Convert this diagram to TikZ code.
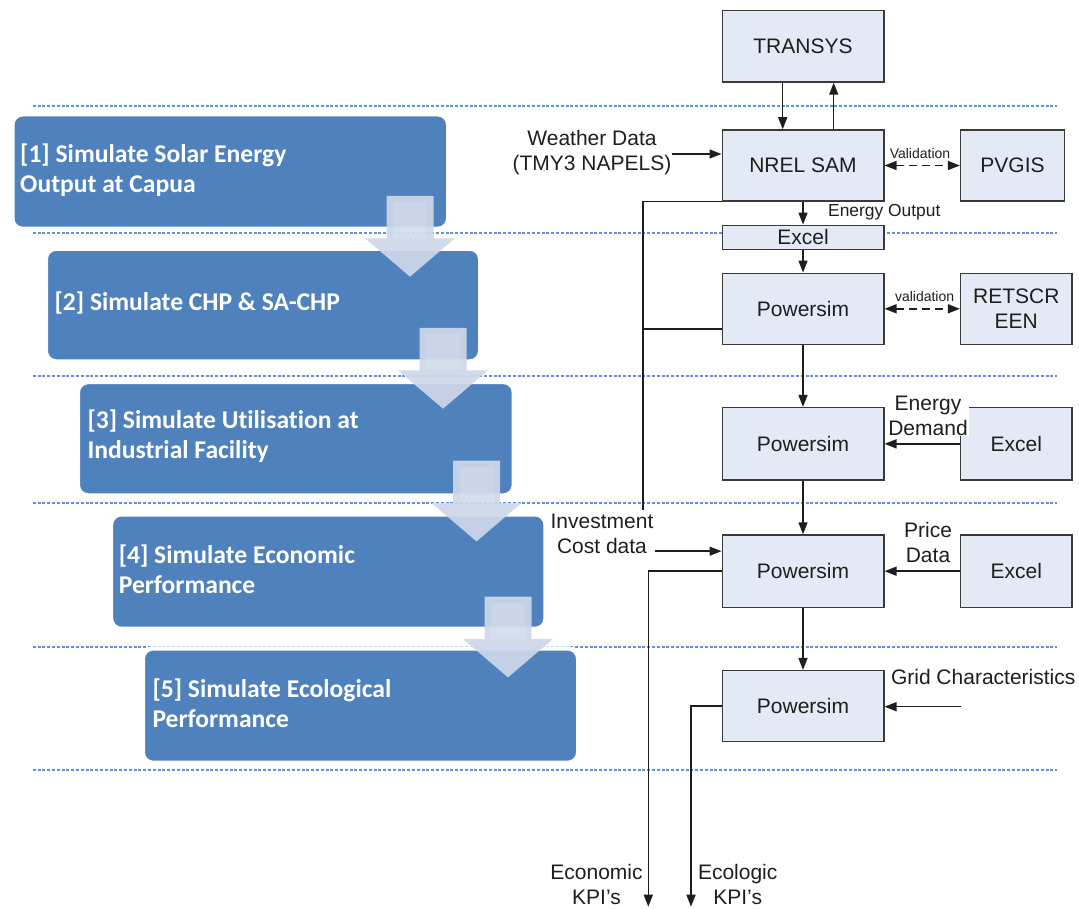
\documentclass[tikz,border=0pt]{standalone}
\usepackage{fontspec}
\setmainfont{Liberation Sans}
\newfontfamily\stepfont{Carlito}[Ligatures=NoCommon]
\usetikzlibrary{arrows.meta}
\definecolor{stepblue}{HTML}{4F81BD}
\definecolor{flowarrow}{HTML}{CDD7E9}
\definecolor{toolfill}{HTML}{E4EAF5}
\definecolor{toolline}{HTML}{3A3A3A}
\definecolor{guide}{HTML}{5E94D8}
\definecolor{ink}{HTML}{1E1E1E}

% big translucent step arrow: centre x, top y
\newcommand\steparrow[2]{%
  \fill[stagearrow] (#1-23.5,#2) -- (#1+23.5,#2) -- (#1+23.5,#2+42.3)
    -- (#1+45,#2+42.3) -- (#1,#2+80.7) -- (#1-45,#2+42.3)
    -- (#1-23.5,#2+42.3) -- cycle;
  \fill[white, opacity=0.12] (#1-17,#2+6) rectangle (#1+17,#2+42.3);}

\begin{document}
\begin{tikzpicture}[x=1pt,y=-1pt,
  stage/.style={preaction={draw=white, line width=7pt}, fill=stepblue,
    draw=white, line width=1.5pt, rounded corners=9pt, anchor=north west,
    inner sep=0pt},
  stagetext/.style={anchor=west, align=left, inner sep=0pt, text=white,
    font=\stepfont\bfseries\fontsize{25.6}{30}\selectfont},
  tool/.style={draw=toolline, fill=toolfill, line width=1.5pt,
    minimum width=161.5pt, minimum height=71pt, inner sep=0pt,
    font=\fontsize{21}{25}\selectfont, align=center, text=ink},
  side/.style={tool, minimum width=111.3pt},
  lbl/.style={inner sep=0pt, font=\fontsize{21}{25}\selectfont, align=center, text=ink},
  small/.style={inner sep=0pt, font=\fontsize{14}{16}\selectfont, text=ink},
  link/.style={line width=1.5pt, draw=ink},
  flow/.style={link, -{Triangle[length=12pt,width=9pt]}},
  twoway/.style={link, dash pattern=on 8pt off 5pt,
    {Triangle[length=12pt,width=9pt]}-{Triangle[length=12pt,width=9pt]}},
  guideline/.style={draw=guide, line width=1.5pt, dash pattern=on 3pt off 1.8pt},
  stagearrow/.style={fill=flowarrow, fill opacity=0.92, draw=none}
]
\useasboundingbox (0,0) rectangle (1079,909);

% dotted phase separators
\foreach \yy in {106,233,376,503,647,770}
  \draw[guideline] (32.7,\yy) -- (1056.5,\yy);

% phase boxes
\node[stage, minimum width=433pt, minimum height=111.7pt] (s1) at (13,115) {};
\node[stage, minimum width=431.5pt, minimum height=110pt] (s2) at (46.5,249.3) {};
\node[stage, minimum width=433.2pt, minimum height=110.6pt] (s3) at (78.5,382.7) {};
\node[stage, minimum width=431.7pt, minimum height=111.7pt] (s4) at (111.7,515) {};
\node[stage, minimum width=432.5pt, minimum height=111.7pt] (s5) at (143.5,649) {};

\node[stagetext] (t1) at (20,170) {[1] Simulate Solar Energy\\Output at Capua};
\node[stagetext] (t2) at (54.4,303) {[2] Simulate CHP \& SA-CHP};
\node[stagetext] (t3) at (87.3,436) {[3] Simulate Utilisation at\\Industrial Facility};
\node[stagetext] (t4) at (118.6,569) {[4] Simulate Economic\\Performance};
\node[stagetext] (t5) at (152.3,703) {[5] Simulate Ecological\\Performance};

% step arrows between phases
\steparrow{410}{196}
\steparrow{443}{328}
\steparrow{476.5}{460.7}
\steparrow{508}{596.7}

% tool chain
\node[tool, minimum height=71.3pt] (transys) at (803,46.3) {TRANSYS};
\node[tool] (nrel) at (803,165.5) {NREL SAM};
\node[side, minimum width=103.8pt] (pvgis) at (1012.5,165.5) {PVGIS};
\node[tool, minimum height=24pt] (xl1) at (803,237.3) {Excel};
\node[tool] (ps1) at (803,308.8) {Powersim};
\node[side] (rets) at (1016.25,308.8) {RETSCR\\EEN};
\node[tool, minimum height=72.3pt] (ps2) at (803,443.85) {Powersim};
\node[side, minimum height=72.3pt] (xl2) at (1016.25,443.85) {Excel};
\node[tool, minimum height=72.3pt] (ps3) at (803,571.2) {Powersim};
\node[side, minimum height=72.3pt] (xl3) at (1016.25,571.2) {Excel};
\node[tool] (ps4) at (803,706.2) {Powersim};

% labels
\node[lbl] (weather) at (592,152.5) {Weather Data\\(TMY3 NAPELS)};
\node[small] (val1) at (920,153) {Validation};
\node[small] (val2) at (924.6,296) {validation};
\node[lbl, font=\fontsize{17.4}{20}\selectfont, anchor=west] (eout) at (828,212) {Energy Output};
\node[lbl, fill=white, inner sep=1pt] (edem) at (928,415.5) {Energy\\Demand};
\node[lbl] (price) at (928,542.5) {Price\\Data};
\node[lbl] (inv) at (602,534) {Investment\\Cost data};
\node[lbl, anchor=west] (gridc) at (890.8,676.7) {Grid Characteristics};
\node[lbl] (ecokpi) at (596.5,884) {Economic\\KPI's};
\node[lbl] (eclkpi) at (737.7,884) {Ecologic\\KPI's};

% connectors
\draw[flow] ([xshift=-20.3pt]transys.south) -- ([xshift=-20.3pt]nrel.north);
\draw[flow] ([xshift=30.7pt]nrel.north) -- ([xshift=30.7pt]transys.south);
\draw[flow] ([yshift=-1.5pt]weather.east) -- ([yshift=-1.5pt]weather.east -| nrel.west);
\draw[twoway] (nrel.east) -- (pvgis.west);
\draw[flow] (nrel.south) -- (xl1.north);
\draw[flow] (xl1.south) -- (ps1.north);
\draw[twoway] (ps1.east) -- (rets.west);
\draw[flow] (ps1.south) -- (ps2.north);
\draw[flow] (xl2.west) -- (ps2.east);
\draw[flow] (ps2.south) -- (ps3.north);
\draw[flow] (xl3.west) -- (ps3.east);
\draw[flow] (ps3.south) -- (ps4.north);

\coordinate (gridin) at (961.4,706.7);
\draw[flow] (gridin) -- (gridin -| ps4.east);

% investment cost collection line
\coordinate (invtop) at (643,510);
\draw[link] (nrel.south west) -| (invtop);
\draw[link] ([yshift=-20.2pt]ps1.west) -- ([yshift=-20.2pt]ps1.west -| invtop);
\draw[flow] ([xshift=1.5pt,yshift=20pt]ps3.west -| inv.east) -- ([yshift=20pt]ps3.west);

% KPI outputs
\coordinate (ecoout) at (648.3,906.7);
\coordinate (eclout) at (691,906.7);
\draw[flow] (ps3.west) -| (ecoout);
\draw[flow] (ps4.west) -| (eclout);
\end{tikzpicture}
\end{document}
